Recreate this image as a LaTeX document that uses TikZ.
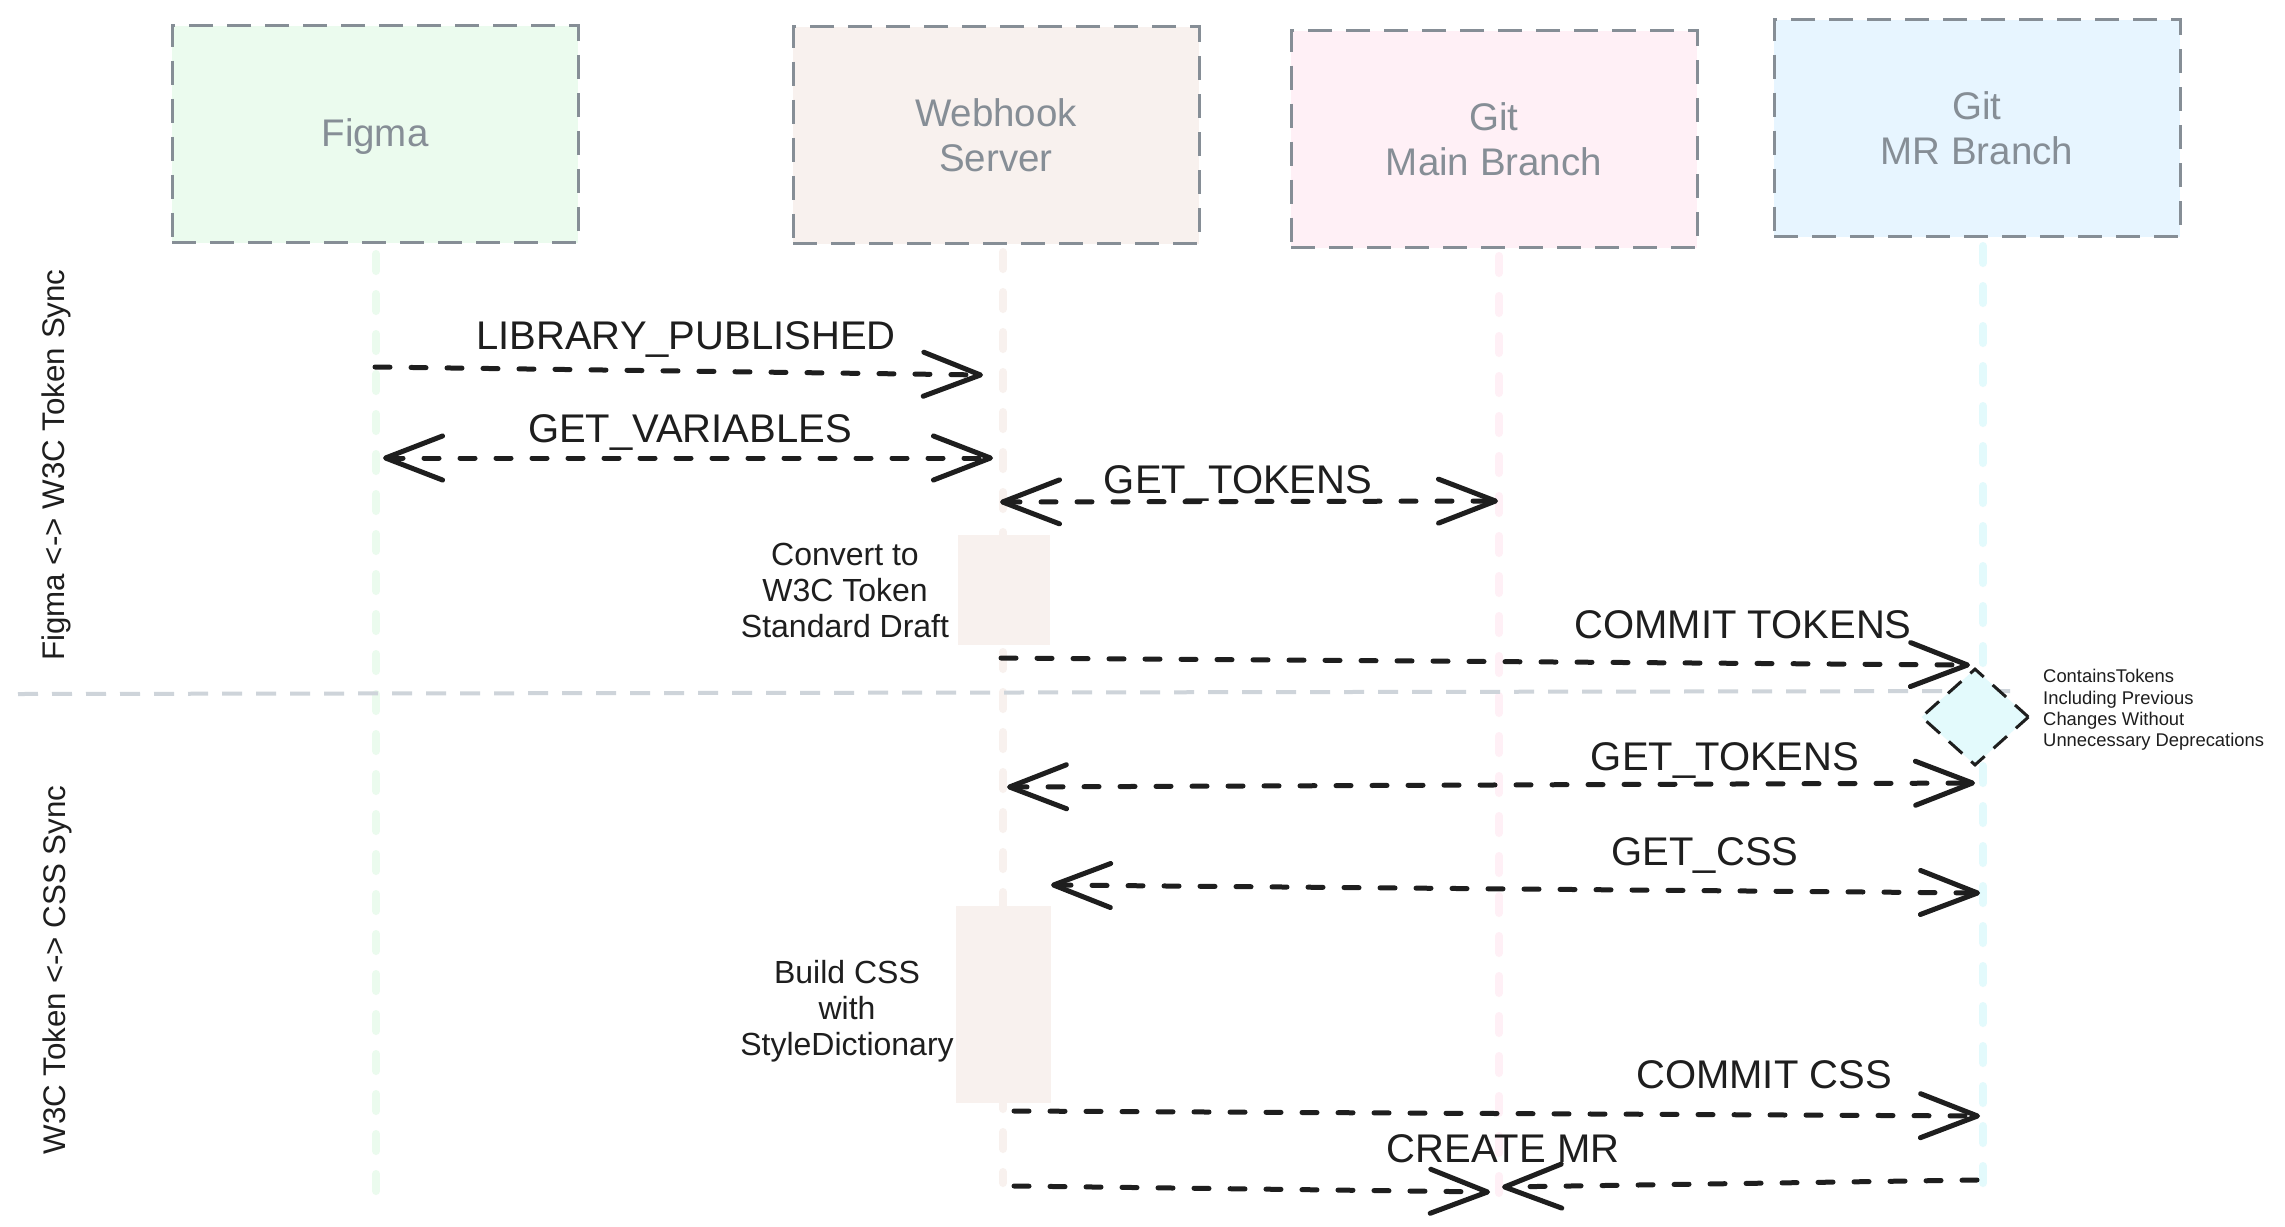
\documentclass[tikz,border=0pt]{standalone}
\usepackage{fontspec}
\setmainfont{Liberation Sans}
\usetikzlibrary{arrows.meta,shapes.geometric}
\definecolor{ink}{HTML}{1E1E1E}
\definecolor{boxline}{HTML}{868E96}
\definecolor{figmafill}{HTML}{EBFBEE}
\definecolor{webfill}{HTML}{F8F1EE}
\definecolor{mainfill}{HTML}{FFF0F6}
\definecolor{mrfill}{HTML}{E7F5FF}
\definecolor{diafill}{HTML}{E3FAFC}
\definecolor{figmalife}{HTML}{EBFBEE}
\definecolor{weblife}{HTML}{F8F1EE}
\definecolor{mainlife}{HTML}{FFF0F6}
\definecolor{mrlife}{HTML}{E3FAFC}
\definecolor{divider}{HTML}{CED4DA}
\tikzset{
  actor/.style={draw=boxline, line width=3pt, dash pattern=on 24pt off 14pt,
    minimum width=406pt, minimum height=217pt, inner sep=0pt, align=center,
    text=boxline, font=\fontsize{38.5}{45}\selectfont},
  life/.style={line width=8pt, line cap=round, dash pattern=on 17pt off 23pt},
  msg/.style={draw=ink, line width=5pt, line cap=round, dash pattern=on 15pt off 21pt,
    >={Straight Barb[length=57pt,width=44pt,line width=5pt,round]}},
  msglabel/.style={anchor=base, text=ink, inner sep=0pt, font=\fontsize{40}{46}\selectfont},
  actbox/.style={fill=webfill, draw=none, inner sep=0pt},
  notetext/.style={text=ink, align=center, inner sep=0pt, font=\fontsize{32}{36}\selectfont},
  sidelabel/.style={text=ink, rotate=90, inner sep=0pt, font=\fontsize{31.3}{36}\selectfont},
}
\begin{document}
\begin{tikzpicture}[x=1pt, y=-1pt]
\useasboundingbox[fill=white] (0,0) rectangle (2285,1226);

% actors
\node[actor, fill=figmafill, text depth=2pt] (figma) at (375,134) {Figma};
\node[actor, fill=webfill] (web) at (996,135) {Webhook\\Server};
\node[actor, fill=mainfill] (main) at (1494,139) {Git\\Main Branch};
\node[actor, fill=mrfill] (mr) at (1977,128) {Git\\MR Branch};

% lifeline ends
\coordinate (figmaTop) at (376,254);
\coordinate (figmaBot) at (376,1198);
\coordinate (webTop) at (1003,252);
\coordinate (webBot) at (1003,1183);
\coordinate (mainTop) at (1499,256);
\coordinate (mainBot) at (1499,1200);
\coordinate (mrTop) at (1983,246);
\coordinate (mrBot) at (1983,1183);

\draw[life, draw=figmalife] (figmaTop) -- (figmaBot);
\draw[life, draw=weblife] (webTop) -- (webBot);
\draw[life, draw=mainlife] (mainTop) -- (mainBot);
\draw[life, draw=mrlife] (mrTop) -- (mrBot);

% divider
\coordinate (divL) at (18,694);
\coordinate (divR) at (2010,691);
\draw[draw=divider, line width=4pt, dash pattern=on 20pt off 14pt] (divL) -- (divR);

% side labels
\node[sidelabel] (sec1) at (56,465) {Figma <-> W3C Token Sync};
\node[sidelabel] (sec2) at (57,970) {W3C Token <-> CSS Sync};

% activation boxes and notes
\node[actbox, minimum width=92pt, minimum height=110pt] (act1) at (1004,590) {};
\node[actbox, minimum width=95pt, minimum height=197pt] (act2) at (1003,1004) {};
\node[notetext] (note1) at (845,590) {Convert to\\W3C Token\\Standard Draft};
\node[notetext] (note2) at (847,1011) {Build CSS\\with\\StyleDictionary};

% message end points
\coordinate (m1a) at (375,367);  \coordinate (m1b) at (983,375);
\coordinate (m2a) at (383,458);  \coordinate (m2b) at (993,458);
\coordinate (m3a) at (1000,502); \coordinate (m3b) at (1498,501);
\coordinate (m4a) at (1001,658); \coordinate (m4b) at (1970,665);
\coordinate (m5a) at (1007,787); \coordinate (m5b) at (1975,783);
\coordinate (m6a) at (1051,885); \coordinate (m6b) at (1980,893);
\coordinate (m7a) at (1014,1111); \coordinate (m7b) at (1980,1116);
\coordinate (m8a) at (1014,1186); \coordinate (m8b) at (1490,1192);
\coordinate (m9a) at (1977,1180); \coordinate (m9b) at (1502,1187);

\draw[msg, ->] (m1a) -- (m1b);
\draw[msg, <->] (m2a) -- (m2b);
\draw[msg, <->] (m3a) -- (m3b);
\draw[msg, ->] (m4a) -- (m4b);
\draw[msg, <->] (m5a) -- (m5b);
\draw[msg, <->] (m6a) -- (m6b);
\draw[msg, ->] (m7a) -- (m7b);
\draw[msg, ->] (m8a) -- (m8b);
\draw[msg, ->] (m9a) -- (m9b);

\node[msglabel] (l1) at (686,349) {LIBRARY\_PUBLISHED};
\node[msglabel] (l2) at (690,442) {GET\_VARIABLES};
\node[msglabel] (l3) at (1238,493) {GET\_TOKENS};
\node[msglabel] (l4) at (1743,638) {COMMIT TOKENS};
\node[msglabel] (l5) at (1725,770) {GET\_TOKENS};
\node[msglabel] (l6) at (1705,865) {GET\_CSS};
\node[msglabel] (l7) at (1764,1088) {COMMIT CSS};
\node[msglabel] (l8) at (1503,1162) {CREATE MR};

% decision diamond and its note
\node[diamond, fill=diafill, draw=ink, line width=3pt, dash pattern=on 18pt off 12pt,
  minimum width=108pt, minimum height=97pt, inner sep=0pt] (dia) at (1975,717) {};
\node[anchor=west, align=left, text=ink, inner sep=0pt,
  font=\fontsize{18.4}{21.3}\selectfont] (dianote) at (2043,710)
  {ContainsTokens\\Including Previous\\Changes Without\\Unnecessary Deprecations};
\end{tikzpicture}
\end{document}
